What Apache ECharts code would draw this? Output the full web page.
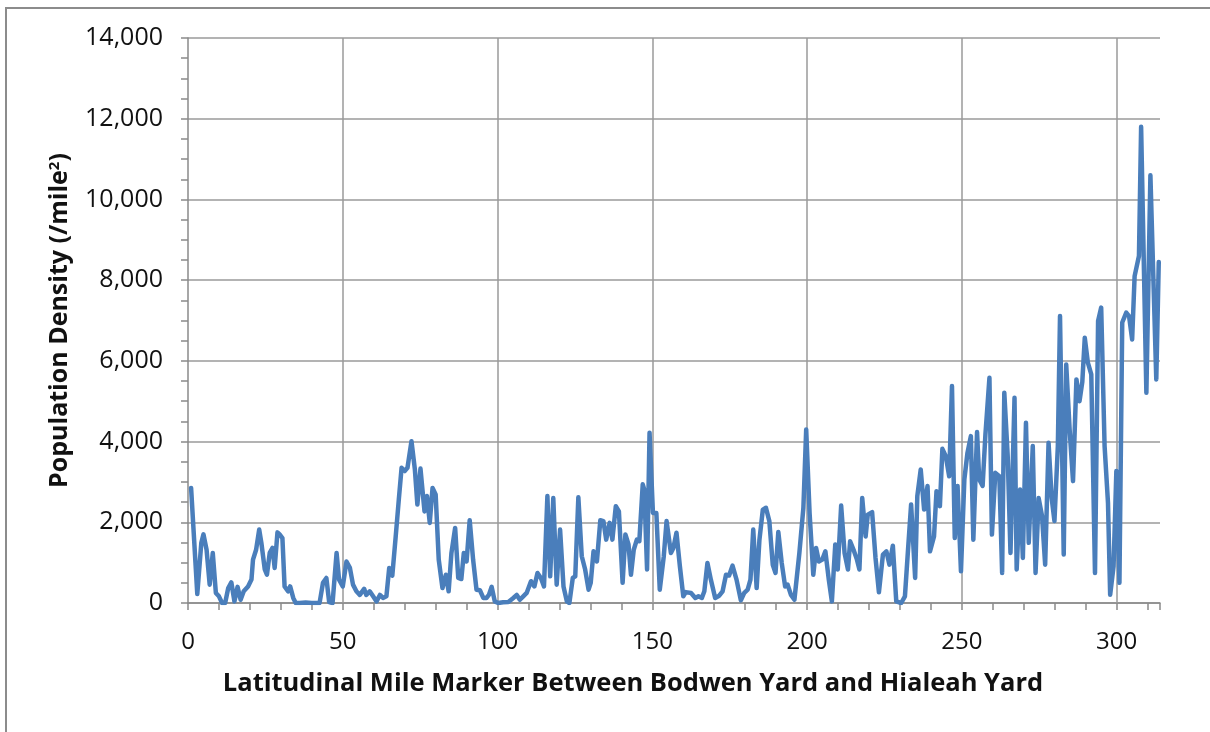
<!DOCTYPE html>
<html>
<head>
<meta charset="utf-8">
<title>Population Density along the Corridor</title>
<script src="https://cdn.jsdelivr.net/npm/echarts@6/dist/echarts.min.js"></script>
<style>
  html, body { margin: 0; padding: 0; background: #ffffff; }
  #chart { width: 1210px; height: 732px; }
</style>
</head>
<body>
<div id="chart"></div>
<script>
// Latitudinal mile marker (Bodwen Yard -> Hialeah Yard)
const miles = [
  1.0, 3.0, 4.3, 5.0, 6.0, 7.0, 8.0, 9.0, 10.0, 11.0, 12.0, 13.0, 14.0, 15.0, 16.0, 17.0, 18.0, 19.4, 20.5, 21.0,
  22.0, 23.0, 23.7, 24.8, 25.5, 26.4, 27.3, 28.0, 28.9, 29.6, 30.5, 31.2, 32.3, 33.0, 34.0, 34.8, 36.0, 38.0, 40.0, 42.5,
  43.6, 44.7, 45.6, 46.7, 48.0, 48.8, 50.0, 51.2, 52.3, 53.3, 54.4, 55.5, 56.9, 57.6, 58.7, 59.8, 60.9, 62.0, 63.0, 64.1,
  65.0, 66.0, 67.1, 68.1, 69.0, 70.0, 70.9, 72.2, 73.3, 74.1, 75.1, 76.4, 77.2, 78.1, 79.0, 80.0, 81.0, 82.2, 83.3, 84.2,
  85.1, 86.3, 87.3, 88.3, 89.1, 90.0, 91.0, 92.1, 93.2, 94.3, 95.4, 96.4, 97.2, 98.1, 99.1, 100.2, 101.8, 103.5, 105.1, 106.2,
  107.2, 108.3, 109.4, 110.8, 111.9, 112.9, 114.0, 115.0, 116.1, 117.0, 118.0, 119.1, 120.2, 121.3, 122.4, 123.2, 124.3, 125.1, 126.1, 127.2,
  128.3, 129.4, 130.1, 131.0, 132.1, 133.2, 134.2, 135.1, 136.2, 137.1, 138.2, 139.2, 140.4, 141.3, 142.3, 143.1, 144.0, 145.0, 145.8, 146.9,
  147.4, 148.3, 149.1, 150.2, 151.3, 152.4, 153.7, 154.6, 156.0, 156.8, 157.8, 158.9, 160.0, 160.8, 162.5, 163.9, 164.9, 166.0, 166.8, 167.8,
  168.9, 170.3, 171.6, 172.7, 173.8, 174.8, 175.9, 177.2, 178.6, 179.7, 180.8, 181.7, 182.6, 183.7, 184.6, 185.7, 186.7, 187.8, 188.9, 189.8,
  190.7, 191.8, 192.9, 193.7, 194.8, 195.9, 197.5, 198.8, 199.7, 200.8, 202.0, 202.9, 203.8, 204.9, 205.9, 207.0, 208.0, 209.1, 209.9, 211.0,
  212.1, 213.2, 213.9, 215.0, 216.1, 216.9, 217.8, 218.9, 219.6, 221.0, 222.1, 223.2, 224.5, 225.6, 226.6, 227.7, 228.8, 230.4, 231.6, 232.6,
  233.6, 234.9, 235.6, 236.7, 237.8, 238.9, 239.7, 241.0, 241.8, 242.9, 243.7, 244.8, 245.9, 246.8, 247.7, 248.6, 249.7, 250.8, 251.8, 252.9,
  253.7, 254.9, 255.6, 256.7, 257.6, 258.9, 259.7, 260.8, 262.1, 263.0, 263.7, 264.8, 265.7, 267.0, 267.7, 268.8, 269.7, 270.7, 271.6, 272.9,
  273.8, 274.8, 275.9, 276.9, 278.0, 279.0, 279.9, 281.0, 281.7, 282.9, 283.7, 284.8, 285.9, 287.0, 288.0, 288.9, 289.7, 290.7, 291.8, 293.0,
  294.0, 295.0, 296.1, 297.2, 297.9, 299.0, 299.9, 300.9, 301.8, 303.1, 304.0, 305.0, 305.8, 307.2, 307.9, 309.6, 310.9, 312.8, 313.6
];

// Population density (people per square mile) at each marker
const density = [
  2850, 220, 1490, 1700, 1320, 455, 1240, 250, 165, 0, 0, 370, 510, 40, 400, 80, 290, 410, 580, 1075,
  1320, 1820, 1490, 830, 700, 1240, 1365, 870, 1750, 1700, 1610, 410, 290, 410, 125, 0, 0, 10, 0, 0,
  500, 620, 25, 0, 1240, 580, 410, 1030, 870, 455, 290, 200, 350, 200, 290, 165, 40, 200, 125, 165,
  870, 680, 1650, 2560, 3350, 3270, 3350, 4010, 3300, 2440, 3330, 2270, 2650, 1985, 2850, 2690, 1075, 370, 700, 290,
  1240, 1860, 620, 595, 1240, 1030, 2050, 1075, 330, 315, 125, 125, 200, 400, 40, 0, 20, 25, 125, 200,
  80, 165, 250, 540, 410, 745, 620, 410, 2650, 660, 2600, 455, 1820, 410, 40, 0, 620, 660, 2620, 1160,
  830, 330, 500, 1280, 1030, 2050, 2030, 1570, 1985, 1570, 2400, 2270, 500, 1700, 1450, 700, 1320, 1570, 1530, 2940,
  2810, 830, 4220, 2230, 2230, 330, 1160, 2030, 1240, 1365, 1740, 910, 165, 270, 250, 125, 165, 125, 290, 990,
  580, 125, 180, 290, 700, 680, 925, 580, 65, 250, 330, 580, 1820, 370, 1570, 2315, 2360, 2030, 950, 745,
  1760, 990, 410, 455, 200, 80, 1240, 2360, 4300, 2230, 700, 1365, 1030, 1075, 1280, 580, 40, 1450, 830, 2415,
  1240, 830, 1530, 1320, 1075, 830, 2600, 1650, 2190, 2250, 1115, 265, 1200, 1280, 950, 1420, 40, 0, 165, 1320,
  2440, 620, 2650, 3310, 2315, 2900, 1280, 1650, 2770, 2400, 3820, 3640, 3140, 5375, 1610, 2900, 785, 3060, 3720, 4135,
  1570, 4235, 3060, 2900, 4175, 5580, 1695, 3225, 3140, 745, 5210, 3640, 1240, 5085, 830, 2810, 1115, 4465, 1490, 3890,
  745, 2600, 2150, 950, 3970, 2600, 2030, 3890, 7110, 1200, 5910, 4300, 3020, 5540, 5000, 5475, 6575, 5955, 5665, 745,
  6990, 7320, 3890, 2480, 205, 910, 3270, 500, 6950, 7195, 7110, 6530, 8100, 8600, 11800, 5210, 10600, 5540, 8450
];

// Labelled mile markers on the horizontal axis (vertical gridlines)
const mileGridlines = [50, 100, 150, 200, 250, 300];
const mileLabelStep = 50;

const xTitle = 'Latitudinal Mile Marker Between Bodwen Yard and Hialeah Yard';
const yTitle = 'Population Density (/mile{sup|2})';

const gridColor = '#9a9a9a';
const axisColor = '#8a8a8a';
const lineColor = '#4a7ebb';
const fontFamily = '"Open Sans", Lato, sans-serif';

const chart = echarts.init(document.getElementById('chart'), null, { renderer: 'canvas' });

const points = miles.map((m, i) => [m, density[i]]);

chart.setOption({
  animation: false,
  backgroundColor: '#ffffff',
  graphic: [
    {
      type: 'polyline',
      shape: { points: [[6, 732], [6, 8], [1210, 8]] },
      style: { stroke: '#8c8c8c', lineWidth: 2, fill: null },
      silent: true
    }
  ],
  grid: { left: 188, right: 50, top: 38, bottom: 129, containLabel: false },
  xAxis: {
    type: 'value',
    min: 0,
    max: 314,
    interval: 10,
    name: xTitle,
    nameLocation: 'middle',
    nameGap: 68,
    // title sits centred on the whole chart, left of the plot centre
    nameTextStyle: { fontFamily, fontWeight: 'bold', fontSize: 25.5, color: '#111', padding: [0, 82, 0, 0] },
    axisLine: { show: true, onZero: false, lineStyle: { color: axisColor, width: 1.5 } },
    axisTick: { show: true, inside: false, length: 7, lineStyle: { color: axisColor, width: 1.5 } },
    axisLabel: {
      margin: 27,
      fontFamily,
      fontSize: 24,
      color: '#111',
      formatter: v => (v % mileLabelStep === 0 ? String(v) : '')
    },
    splitLine: { show: false }
  },
  yAxis: {
    type: 'value',
    min: 0,
    max: 14000,
    interval: 2000,
    name: yTitle,
    nameLocation: 'middle',
    nameGap: 116,
    nameRotate: 90,
    nameTextStyle: {
      fontFamily, fontWeight: 'bold', fontSize: 25, color: '#111',
      rich: { sup: { fontFamily, fontWeight: 'bold', fontSize: 15, color: '#111', verticalAlign: 'top', padding: [0, 0, 10, 0] } }
    },
    axisLine: { show: true, lineStyle: { color: axisColor, width: 1.5 } },
    axisTick: { show: true, inside: false, length: 7, lineStyle: { color: axisColor, width: 1.5 } },
    minorTick: { show: true, splitNumber: 4, length: 7, lineStyle: { color: axisColor, width: 1.5 } },
    axisLabel: {
      margin: 25,
      fontFamily,
      fontSize: 25,
      color: '#111',
      formatter: v => v.toLocaleString('en-US')
    },
    splitLine: { show: true, lineStyle: { color: gridColor, width: 1.5 } }
  },
  series: [
    {
      type: 'line',
      data: points,
      showSymbol: false,
      symbol: 'none',
      lineStyle: { color: lineColor, width: 4.5, join: 'round', cap: 'round' },
      z: 3,
      markLine: {
        silent: true,
        symbol: ['none', 'none'],
        label: { show: false },
        lineStyle: { color: gridColor, width: 1.5, type: 'solid' },
        z: 1,
        data: mileGridlines.map(v => ({ xAxis: v }))
      }
    }
  ]
});
</script>
</body>
</html>
